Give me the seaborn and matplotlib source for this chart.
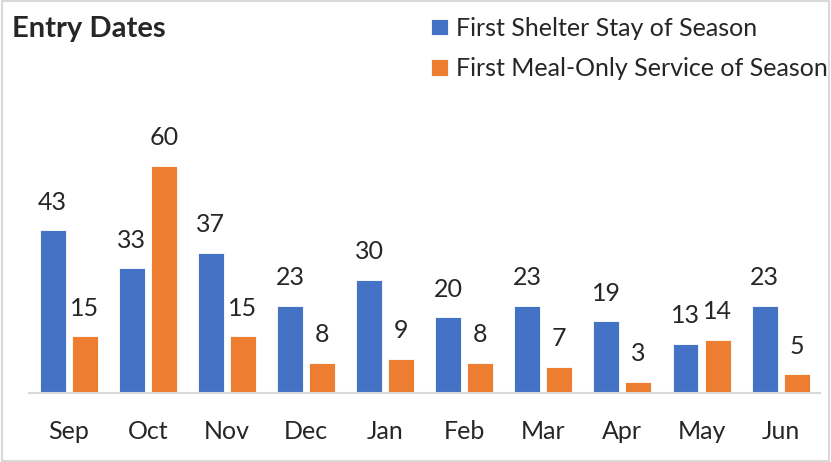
import pandas as pd
import seaborn as sns
import matplotlib.pyplot as plt
from matplotlib.patches import Rectangle

# 数据
months = ['Sep', 'Oct', 'Nov', 'Dec', 'Jan', 'Feb', 'Mar', 'Apr', 'May', 'Jun']
shelter = [43, 33, 37, 23, 30, 20, 23, 19, 13, 23]
meal = [15, 60, 15, 8, 9, 8, 7, 3, 14, 5]
series_names = ['First Shelter Stay of Season', 'First Meal-Only Service of Season']
colors = ['#4472C4', '#ED7D31']

# 长格式
data = pd.DataFrame({
    'month': months * 2,
    'value': shelter + meal,
    'series': [series_names[0]] * len(months) + [series_names[1]] * len(months),
})

sns.set_style('white')
plt.rcParams['font.family'] = ['Lato', 'DejaVu Sans']

fig = plt.figure(figsize=(8.31, 4.62), dpi=100)
ax = fig.add_axes([0.035, 0.149, 0.952, 0.508])

sns.barplot(data=data, x='month', y='value', hue='series', palette=colors,
            saturation=1, width=0.81, gap=0.19, edgecolor='white', linewidth=0.6, ax=ax)

# 数据标签
for c in ax.containers:
    ax.bar_label(c, fontsize=18, padding=12)

ax.set_ylim(0, 62)
ax.set_xlim(-0.5, 9.5)
ax.set_xlabel('')
ax.set_ylabel('')
ax.set_yticks([])
ax.tick_params(axis='x', length=0, labelsize=18, pad=19)
for s in ['top', 'right', 'left']:
    ax.spines[s].set_visible(False)
ax.spines['bottom'].set_color('#D9D9D9')
ax.spines['bottom'].set_linewidth(1.5)

# 图例
handles, labels = ax.get_legend_handles_labels()
ax.legend_.remove()
fig.legend(handles, labels, loc='upper left', bbox_to_anchor=(0.507, 0.985),
           frameon=False, fontsize=18, handlelength=0.65, handleheight=0.65,
           handletextpad=0.35, labelspacing=0.7, borderaxespad=0)

# 标题
fig.text(0.014, 0.938, 'Entry Dates', fontsize=21, fontweight='bold', va='center')

# 外框
fig.patches.append(Rectangle((0.002, 0.002), 0.996, 0.996, transform=fig.transFigure,
                             fill=False, edgecolor='#D9D9D9', linewidth=1.5))

plt.savefig('out.png', dpi=100)
